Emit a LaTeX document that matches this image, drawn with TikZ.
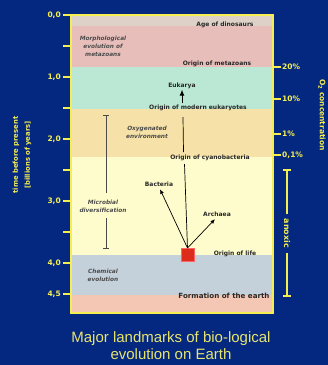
\documentclass[tikz,border=0pt]{standalone}
\usepackage{fontspec}
\setmainfont{DejaVu Sans}
\newfontfamily\capfont{Liberation Sans}
\usetikzlibrary{arrows.meta}
\definecolor{bg}{RGB}{4,40,128}
\definecolor{yel}{RGB}{245,238,80}
\definecolor{capyel}{RGB}{232,228,110}
\definecolor{labgray}{RGB}{40,40,40}
\definecolor{itgray}{RGB}{75,75,75}
\definecolor{bandA}{RGB}{222,210,200}
\definecolor{bandB}{RGB}{232,190,186}
\definecolor{bandC}{RGB}{186,232,212}
\definecolor{bandD}{RGB}{246,226,168}
\definecolor{bandE}{RGB}{254,252,204}
\definecolor{bandF}{RGB}{196,208,218}
\definecolor{bandG}{RGB}{244,198,180}
\definecolor{lifered}{RGB}{222,44,28}
\begin{document}
\begin{tikzpicture}[x=1pt,y=-1pt,
  lab/.style={font=\fontsize{6}{7}\selectfont\bfseries, text=labgray, inner sep=0.5pt},
  ital/.style={font=\fontsize{5.8}{8}\selectfont\bfseries\itshape, text=itgray, align=center, inner sep=0},
  axnum/.style={font=\fontsize{7.5}{8}\selectfont\bfseries, text=yel, inner sep=0},
  axtitle/.style={font=\fontsize{6.8}{12}\selectfont\bfseries, text=yel, align=center, inner sep=0},
  axline/.style={draw=yel, line width=1.6pt},
  bar/.style={draw=itgray, line width=0.9pt},
  conn/.style={draw=black, line width=0.7pt},
  tip/.style={-{Latex[length=4.5pt,width=4pt]}}
]
\fill[bg] (0,0) rectangle (328,365);
\useasboundingbox (0,0) rectangle (328,365);
% bands
\fill[bandA] (71,15) rectangle (273,26);
\fill[bandB] (71,26) rectangle (273,67);
\fill[bandC] (71,67) rectangle (273,109);
\fill[bandD] (71,109) rectangle (273,157);
\fill[bandE] (71,157) rectangle (273,255);
\fill[bandF] (71,255) rectangle (273,295);
\fill[bandG] (71,295) rectangle (273,313);
\draw[draw=yel, line width=1.2pt] (71,15) rectangle (273,313);
\draw[axline] (71,15) -- (71,313);
% left ticks
\foreach \yy in {15,46,77,108,139,170,201,232,263,294} \draw[axline] (63,\yy) -- (71,\yy);
\node[axnum, anchor=east] (t00) at (61,15) {0,0};
\node[axnum, anchor=east] (t10) at (61,77) {1,0};
\node[axnum, anchor=east] (t20) at (61,139) {2,0};
\node[axnum, anchor=east] (t30) at (61,201) {3,0};
\node[axnum, anchor=east] (t40) at (61,263) {4,0};
\node[axnum, anchor=east] (t45) at (61,294) {4,5};
% right ticks
\foreach \yy in {67,99,134,155} \draw[axline] (273,\yy) -- (281,\yy);
\node[axnum, anchor=west] (p20) at (282,67) {20\%};
\node[axnum, anchor=west] (p10) at (282,99) {10\%};
\node[axnum, anchor=west] (p1) at (282,134) {1\%};
\node[axnum, anchor=west] (p01) at (282,155) {0,1\%};
% anoxic bar
\node[axnum, font=\fontsize{8}{9}\selectfont\bfseries, rotate=-90, inner xsep=5pt] (anox) at (287,233.5) {anoxic};
\draw[axline] (283,170) -- (291,170);
\draw[axline] (287,170) -- (anox.west);
\draw[axline] (anox.east) -- (287,296);
\draw[axline] (283,296) -- (291,296);
% axis titles
\node[axtitle, rotate=90] (ltitle) at (22,155) {time before present\\{[billions of years]}};
\node[axtitle, font=\fontsize{7.5}{9}\selectfont\bfseries, rotate=-90] (rtitle) at (322,115) {O\textsubscript{2} concentration};
% italic labels
\node[ital] (morph) at (103,46) {Morphological\\evolution of\\metazoans};
\node[ital] (oxy) at (147,132.5) {Oxygenated\\environment};
\node[ital] (micro) at (103,206) {Microbial\\diversification};
\node[ital] (chem) at (103,275) {Chemical\\evolution};
% microbial bar
\draw[bar] (103,115) -- (109,115);
\draw[bar] (106,115) -- (106,193);
\draw[bar] (106,218) -- (106,248);
\draw[bar] (103,248) -- (109,248);
% event labels
\node[lab] (dino) at (225,24.5) {Age of dinosaurs};
\node[lab] (meta) at (217,64) {Origin of metazoans};
\node[lab] (euk) at (182,86) {Eukarya};
\node[lab] (modeuk) at (198,108) {Origin of modern eukaryotes};
\node[lab] (cyano) at (210,157.5) {Origin of cyanobacteria};
\node[lab] (bact) at (159,184) {Bacteria};
\node[lab] (arch) at (217,214) {Archaea};
\node[lab] (olife) at (235,254) {Origin of life};
\node[lab, font=\fontsize{7.1}{8}\selectfont\bfseries] (form) at (224,296) {Formation of the earth};
% origin of life square
\node[draw=red!60!white, fill=lifered, line width=0.5pt, minimum size=12.5pt, inner sep=0] (life) at (187.5,254.5) {};
% connectors
\coordinate (cA) at (184.5,164);
\coordinate (cB) at (183.5,152);
\coordinate (cC) at (183,117);
\draw[conn] (life.north) -- (cA);
\draw[conn] (cB) -- (cC);
\draw[conn, tip, shorten >=2.5pt] (life.north) -- (bact.south);
\draw[conn, tip, shorten >=3pt] (life.north) -- (arch.south);
\draw[conn, line width=0.9pt, -{Latex[length=6pt,width=5pt]}] (euk.south |- modeuk.north) ++(0,-1) -- (euk.south);
% caption
\node[font=\capfont\fontsize{15}{17}\selectfont, text=capyel, align=center, inner sep=0] (cap) at (171,346) {Major landmarks of bio-logical\\evolution on Earth};
\end{tikzpicture}
\end{document}
